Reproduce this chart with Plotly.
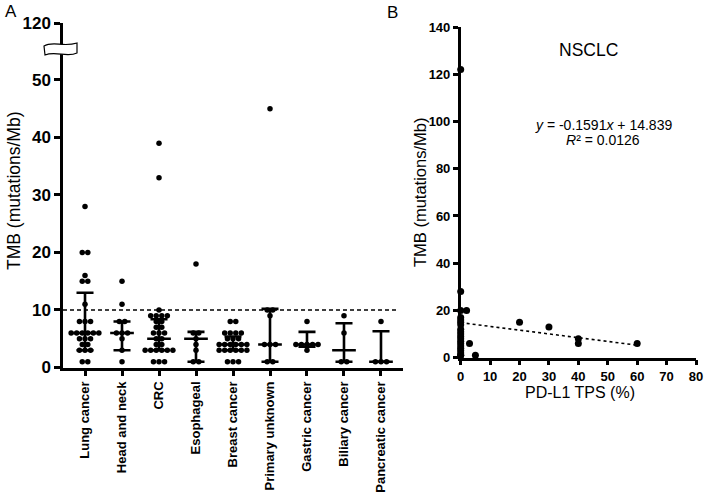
import plotly.graph_objects as go

# ---------------- data ----------------
categories = ["Lung cancer", "Head and neck", "CRC", "Esophageal", "Breast cancer",
              "Primary unknown", "Gastric cancer", "Biliary cancer", "Pancreatic cancer"]

tmb_lung = [121, 28, 20, 20, 16, 15, 15, 11, 8, 8, 8, 6, 6, 6, 6, 6, 6, 5, 5, 5, 4, 4, 3, 3, 3, 1, 1]
tmb_head_neck = [15, 11, 8, 8, 6, 6, 6, 5, 3, 1]
tmb_crc = [39, 33, 10, 9, 9, 9, 9, 8, 8, 7, 7, 6, 6, 6, 5, 5, 4, 4, 3, 3, 3, 3, 3, 3, 1, 1, 1]
tmb_esophageal = [18, 6, 6, 5, 4, 3, 1, 1]
tmb_breast = [8, 8, 6, 6, 6, 6, 5, 5, 5, 4, 4, 4, 4, 4, 4, 3, 3, 3, 3, 3, 3, 1, 1, 1]
tmb_primary_unknown = [45, 10, 10, 9, 4, 4, 4, 1, 1]
tmb_gastric = [8, 4, 4, 4, 4, 4, 3]
tmb_biliary = [9, 6, 1, 1]
tmb_pancreatic = [8, 1, 1, 1]

medians = [6, 6, 5, 5, 4, 4, 4, 3, 1]
q1s = [3, 3, 3, 1, 3, 1, 3.6, 1, 1]
q3s = [13, 8, 8.4, 6.2, 5.4, 10.2, 6.2, 7.7, 6.3]
tmb_cutoff = 10

pdl1_tps = [0, 0, 0, 0, 0, 0, 0, 0, 0, 0, 0, 0, 0, 0, 0, 0, 0, 0, 0, 0,
            2, 3, 5, 20, 30, 40, 40, 60]
nsclc_tmb = [122, 28, 20, 17, 16, 15, 14, 12, 11, 10, 9, 8, 7, 6, 5, 4, 3, 2, 1, 1,
             20, 6, 1, 15, 13, 8, 6, 6]
fit_slope = -0.1591
fit_intercept = 14.839
fit_r2 = 0.0126
fit_x_range = [0, 60]

groups = [tmb_lung, tmb_head_neck, tmb_crc, tmb_esophageal, tmb_breast,
          tmb_primary_unknown, tmb_gastric, tmb_biliary, tmb_pancreatic]

# ---------------- geometry helpers ----------------
W, H = 709, 499
def px(x):
    return x / W
def py(y):
    return 1 - y / H

FONT = "Liberation Sans, Arial, Helvetica, sans-serif"
BREAK_AT = 55  # values above this go to the upper (broken) segment


def swarm(vals, step):
    counts = {}
    for v in vals:
        counts[v] = counts.get(v, 0) + 1
    seen = {}
    out = []
    for v in vals:
        n = counts[v]
        k = seen.get(v, 0)
        seen[v] = k + 1
        out.append((k - (n - 1) / 2) * step)
    return out


fig = go.Figure()

# ---- panel A points
lo_x, lo_y, hi_x, hi_y = [], [], [], []
for i, vals in enumerate(groups):
    offs = swarm(vals, 0.15)
    for v, o in zip(vals, offs):
        if v > BREAK_AT:
            hi_x.append(i + o)
            hi_y.append(v)
        else:
            lo_x.append(i + o)
            lo_y.append(v)

fig.add_trace(go.Scatter(x=lo_x, y=lo_y, mode="markers", xaxis="x", yaxis="y",
                         marker=dict(color="black", size=5.5), cliponaxis=False))
fig.add_trace(go.Scatter(x=hi_x, y=hi_y, mode="markers", xaxis="x", yaxis="y3",
                         marker=dict(color="black", size=5.5), cliponaxis=False))

# ---- median and IQR bars
mx, my, vx, vy, cx, cy = [], [], [], [], [], []
for i in range(len(categories)):
    mx += [i - 0.32, i + 0.32, None]
    my += [medians[i], medians[i], None]
    vx += [i, i, None]
    vy += [q1s[i], q3s[i], None]
    for q in (q1s[i], q3s[i]):
        cx += [i - 0.23, i + 0.23, None]
        cy += [q, q, None]
for xs, ys in ((mx, my), (vx, vy), (cx, cy)):
    fig.add_trace(go.Scatter(x=xs, y=ys, mode="lines", xaxis="x", yaxis="y",
                             line=dict(color="black", width=2.6), cliponaxis=False))

# ---- cutoff dashed line
fig.add_trace(go.Scatter(x=[-0.595, 8.43], y=[tmb_cutoff, tmb_cutoff], mode="lines",
                         xaxis="x", yaxis="y",
                         line=dict(color="black", width=1.3, dash="4px,3px")))

# ---- panel B
fig.add_trace(go.Scatter(x=pdl1_tps, y=nsclc_tmb, mode="markers", xaxis="x2", yaxis="y2",
                         marker=dict(color="black", size=7), cliponaxis=False))
fit_y = [fit_slope * x + fit_intercept for x in fit_x_range]
fig.add_trace(go.Scatter(x=fit_x_range, y=fit_y, mode="lines", xaxis="x2", yaxis="y2",
                         line=dict(color="black", width=1.6, dash="dot")))

axis_common = dict(showline=True, linecolor="black", linewidth=2.5, showgrid=False,
                   zeroline=False, ticks="outside", tickcolor="black", tickwidth=2.5,
                   automargin=False)

fig.update_layout(
    template="none",
    width=W, height=H, margin=dict(l=0, r=0, t=0, b=0, pad=0), autosize=False,
    paper_bgcolor="white", plot_bgcolor="white", showlegend=False,
    font=dict(family=FONT, color="black"),
    xaxis=dict(domain=[px(63), px(403)], range=[-0.595, 8.595], anchor="y",
               tickvals=list(range(len(categories))), ticktext=categories,
               tickangle=-90, ticklen=6,
               tickfont=dict(family=FONT, size=13, weight="bold", color="black"),
               **axis_common),
    yaxis=dict(domain=[py(367.5), py(50)], range=[0, 55.2], anchor="x",
               tickvals=[0, 10, 20, 30, 40, 50], ticklen=6,
               tickfont=dict(family=FONT, size=17, weight="bold", color="black"),
               **axis_common),
    yaxis3=dict(domain=[py(45), py(23)], range=[116.17, 120], anchor="x",
                tickvals=[120], ticklen=6,
                tickfont=dict(family=FONT, size=17, weight="bold", color="black"),
                **axis_common),
    xaxis2=dict(domain=[px(460.7), px(696)], range=[0, 80], anchor="y2",
                tickvals=list(range(0, 81, 10)), ticklen=5,
                tickfont=dict(family=FONT, size=13, weight="bold", color="black"),
                **axis_common),
    yaxis2=dict(domain=[py(357.7), py(27)], range=[0, 140], anchor="x2",
                tickvals=list(range(0, 141, 20)), ticklen=5,
                tickfont=dict(family=FONT, size=13, weight="bold", color="black"),
                **axis_common),
)

# axis break symbol
pts = "M {:.5f},{:.5f} C {:.5f},{:.5f} {:.5f},{:.5f} {:.5f},{:.5f} L {:.5f},{:.5f} C {:.5f},{:.5f} {:.5f},{:.5f} {:.5f},{:.5f} Z".format(
    px(44), py(46), px(53), py(40.5), px(63), py(47.5), px(77), py(43),
    px(77), py(53), px(67), py(58), px(56), py(50.5), px(45), py(55))
fig.add_shape(type="path", path=pts, xref="paper", yref="paper",
              fillcolor="white", line=dict(color="black", width=1.2), layer="above")

def ann(text, x, y, size, angle=0, **kw):
    fig.add_annotation(text=text, x=px(x), y=py(y), xref="paper", yref="paper",
                       showarrow=False, textangle=angle, xanchor="center", yanchor="middle",
                       font=dict(family=FONT, size=size, color="black"), **kw)

ann("A", 11, 11, 17)
ann("B", 392, 12, 17)
ann("TMB (mutations/Mb)", 14, 191, 17.5, angle=-90)
ann("TMB (mutations/Mb)", 420, 193, 16.5, angle=-90)
ann("PD-L1 TPS (%)", 580, 392, 16)
ann("NSCLC", 588, 50, 17.5)
ann("<i>y</i> = {}<i>x</i> + {}".format(fit_slope, fit_intercept), 603, 125, 14)
ann("<i>R</i>² = {}".format(fit_r2), 603, 140, 14)

fig.write_html("out.html", config={"displayModeBar": False},
               post_script="document.body.style.margin='0';document.body.style.padding='0';")
